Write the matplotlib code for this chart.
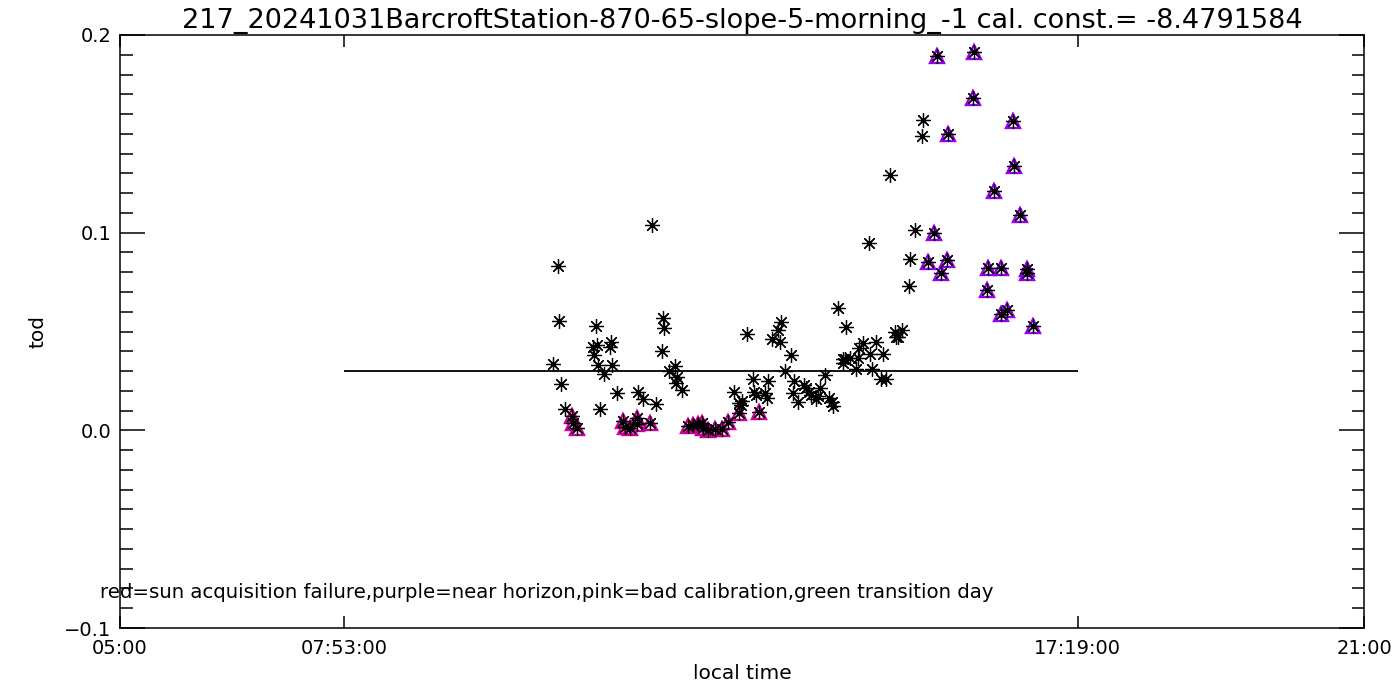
import matplotlib

matplotlib.use("Agg")
import matplotlib.pyplot as plt
from matplotlib.ticker import FixedLocator, MultipleLocator

# --------------------------------------------------------------------------- #
#  Data (local time in decimal hours, tod)
# --------------------------------------------------------------------------- #
good_time = [
    10.573, 10.637, 10.650, 10.676, 10.727, 11.088, 11.101, 11.126, 11.139,
    11.152, 11.178, 11.229, 11.306, 11.315, 11.332, 11.396, 11.666, 11.731,
    11.839, 11.898, 11.975, 11.988, 12.001, 12.061, 12.138, 12.151, 12.160,
    12.232, 12.900, 12.957, 12.982, 12.999, 13.067, 13.137, 13.153, 13.179,
    13.299, 13.325, 13.338, 13.389, 13.466, 13.489, 13.505, 13.556, 13.634,
    13.659, 13.672, 13.723, 13.800, 13.822, 13.861, 13.887, 13.951, 13.973,
    14.003, 14.071, 14.122, 14.153, 14.173, 14.238, 14.302, 14.305, 14.328,
    14.341, 14.389, 14.470, 14.488, 14.505, 14.556, 14.637, 14.650, 14.676,
    14.727, 14.791, 14.813, 14.848, 14.904, 14.968, 14.981, 15.010, 15.061,
    15.148, 15.161, 15.229, 15.319, 15.332,
]
good_tod = [
    0.0334, 0.0833, 0.0555, 0.0233, 0.0110, 0.0420, 0.0380, 0.0526, 0.0430,
    0.0329, 0.0110, 0.0283, 0.0420, 0.0447, 0.0329, 0.0190, 0.0192, 0.0160,
    0.1040, 0.0131, 0.0400, 0.0568, 0.0520, 0.0298, 0.0325, 0.0240, 0.0270,
    0.0206, 0.0192, 0.0140, 0.0126, 0.0150, 0.0486, 0.0262, 0.0196, 0.0177,
    0.0190, 0.0165, 0.0248, 0.0464, 0.0510, 0.0449, 0.0550, 0.0300, 0.0383,
    0.0190, 0.0248, 0.0145, 0.0230, 0.0216, 0.0194, 0.0180, 0.0160, 0.0174,
    0.0212, 0.0278, 0.0165, 0.0143, 0.0125, 0.0620, 0.0360, 0.0343, 0.0363,
    0.0525, 0.0366, 0.0310, 0.0366, 0.0417, 0.0444, 0.0950, 0.0388, 0.0310,
    0.0445, 0.0260, 0.0388, 0.0260, 0.1290, 0.0497, 0.0472, 0.0470, 0.0510,
    0.0732, 0.0869, 0.1012, 0.1490, 0.1568,
]

# pink = bad calibration
pink_time = [
    10.810, 10.830, 10.882, 11.473, 11.499, 11.560, 11.646, 11.650, 11.817,
    12.309, 12.373, 12.430, 12.481, 12.502, 12.566, 12.653, 12.739, 12.823,
    12.955, 13.222,
]
pink_tod = [
    0.0071, 0.0037, 0.0014, 0.0047, 0.0017, 0.0010, 0.0030, 0.0064, 0.0037,
    0.0022, 0.0025, 0.0030, 0.0037, 0.0010, 0.0000, 0.0008, 0.0008, 0.0042,
    0.0090, 0.0094,
]

# purple = near horizon
purple_time = [
    15.396, 15.473, 15.504, 15.562, 15.639, 15.652, 15.974, 15.987, 16.154,
    16.167, 16.244, 16.326, 16.334, 16.408, 16.489, 16.502, 16.580, 16.662,
    16.670, 16.746,
]
purple_tod = [
    0.0850, 0.0997, 0.1892, 0.0798, 0.0860, 0.1497, 0.1683, 0.1912, 0.0708,
    0.0820, 0.1209, 0.0587, 0.0823, 0.0610, 0.1563, 0.1336, 0.1088, 0.0818,
    0.0798, 0.0526,
]

mean_tod = 0.03
t_start, t_end = 7 + 53 / 60, 17 + 19 / 60
xticks = [5, t_start, t_end, 21]
xtick_labels = ["05:00", "07:53:00", "17:19:00", "21:00"]
yticks = [-0.1, 0.0, 0.1, 0.2]
ytick_labels = ["\u22120.1", "0.0", "0.1", "0.2"]

title = ("217_20241031BarcroftStation-870-65-slope-5-morning_-1 "
         "cal. const.= -8.4791584")
note = ("red=sun acquisition failure,purple=near horizon,"
        "pink=bad calibration,green transition day")

# --------------------------------------------------------------------------- #
#  Plot
# --------------------------------------------------------------------------- #
plt.rcParams["font.family"] = "DejaVu Sans"
fig = plt.figure(figsize=(14, 7), dpi=100)
ax = fig.add_axes([120 / 1400, 72 / 700, 1244 / 1400, 593 / 700])

star = (8, 2, 0)
ax.plot(pink_time, pink_tod, ls="none", marker="^", ms=10, mfc="none",
        mec="#cc0099", mew=1.7, zorder=2)
ax.plot(purple_time, purple_tod, ls="none", marker="^", ms=10, mfc="none",
        mec="#9900ee", mew=1.7, zorder=2)
all_t = good_time + pink_time + purple_time
all_v = good_tod + pink_tod + purple_tod
ax.plot(all_t, all_v, ls="none", marker=star, ms=10.5, mec="black", mew=0.9,
        zorder=3)

ax.hlines(mean_tod, t_start, t_end, color="black", lw=1.3, zorder=1)

ax.set_xlim(5, 21)
ax.set_ylim(-0.1, 0.2)
ax.xaxis.set_major_locator(FixedLocator(xticks))
ax.set_xticklabels(xtick_labels)
ax.yaxis.set_major_locator(FixedLocator(yticks))
ax.set_yticklabels(ytick_labels)
ax.yaxis.set_minor_locator(MultipleLocator(0.01))

ax.tick_params(axis="both", which="both", direction="in", top=True,
               right=True, labelsize=14, width=1.1, color="black")
ax.tick_params(axis="x", which="major", length=8.6, pad=8)
ax.tick_params(axis="y", which="major", length=18, pad=6)
ax.tick_params(axis="y", which="minor", length=9)
for s in ax.spines.values():
    s.set_linewidth(1.1)

ax.set_title(title, fontsize=19.5, pad=5)
ax.set_xlabel("local time", fontsize=14.5, labelpad=4)
ax.set_ylabel("tod", fontsize=14.5, labelpad=12)
fig.text(100 / 1400, 1 - 593 / 700, note, fontsize=14.2, va="center",
         ha="left")

fig.savefig("out.png", dpi=100, facecolor="white")
